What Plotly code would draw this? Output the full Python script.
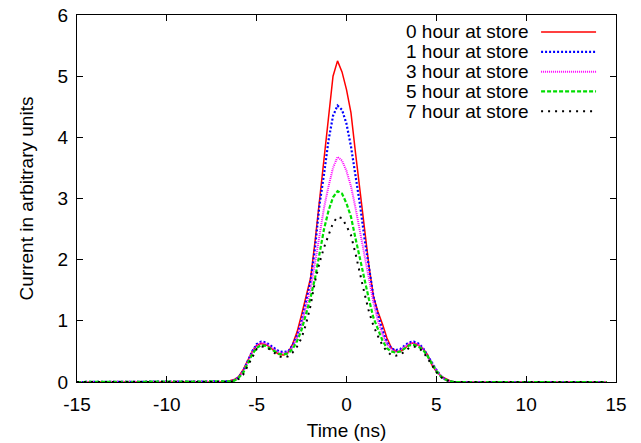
import plotly.graph_objects as go

# Time axis (ns)
time_ns = [-15.0, -14.5, -14.0, -13.5, -13.0, -12.5, -12.0, -11.5, -11.0, -10.5, -10.0,
           -9.5, -9.0, -8.5, -8.0, -7.5,
           -7.0, -6.75, -6.5, -6.25, -6.0, -5.75, -5.5, -5.25, -5.0, -4.75, -4.5, -4.25,
           -4.0, -3.75, -3.5, -3.25, -3.0, -2.75, -2.5, -2.25, -2.0, -1.75, -1.5, -1.25,
           -1.0, -0.75, -0.5, -0.25, 0.0, 0.25, 0.5, 0.75, 1.0, 1.25, 1.5, 1.75,
           2.0, 2.25, 2.5, 2.75, 3.0, 3.25, 3.5, 3.75, 4.0, 4.25, 4.5, 4.75,
           5.0, 5.25, 5.5, 5.75, 6.0,
           6.5, 7.0, 7.5, 8.0, 8.5, 9.0, 9.5, 10.0, 10.5, 11.0, 11.5, 12.0, 12.5,
           13.0, 13.5, 14.0, 14.5]

Z16 = [0.0] * 16
Z17 = [0.0] * 17

hour0 = Z16 + [0.0, 0.005, 0.02, 0.04, 0.09, 0.2, 0.35, 0.5, 0.6, 0.63, 0.61, 0.57,
               0.5, 0.45, 0.44, 0.48, 0.62, 0.82, 1.1, 1.42, 1.7, 2.3, 3.0, 3.6,
               4.3, 5.0, 5.25, 5.07, 4.78, 4.4, 3.75, 3.1, 2.45, 1.9, 1.4, 1.15,
               0.95, 0.72, 0.56, 0.5, 0.5, 0.55, 0.62, 0.64, 0.6, 0.55, 0.45, 0.28,
               0.17, 0.1, 0.06, 0.02, 0.0] + Z17

hour1 = Z16 + [0.0, 0.0, 0.01, 0.03, 0.08, 0.18, 0.33, 0.5, 0.62, 0.66, 0.65, 0.6,
               0.55, 0.5, 0.49, 0.5, 0.6, 0.76, 1.0, 1.3, 1.65, 2.2, 2.9, 3.4,
               3.95, 4.35, 4.52, 4.45, 4.22, 3.85, 3.4, 2.9, 2.35, 1.85, 1.4, 1.1,
               0.85, 0.65, 0.55, 0.52, 0.54, 0.6, 0.65, 0.66, 0.63, 0.56, 0.45, 0.32,
               0.2, 0.1, 0.04, 0.01, 0.0] + Z17

hour3 = Z16 + [0.0, 0.0, 0.01, 0.03, 0.08, 0.17, 0.32, 0.48, 0.6, 0.64, 0.63, 0.58,
               0.53, 0.48, 0.47, 0.49, 0.57, 0.72, 0.95, 1.22, 1.52, 1.95, 2.4, 2.85,
               3.2, 3.5, 3.68, 3.62, 3.45, 3.2, 2.85, 2.45, 2.05, 1.65, 1.3, 1.0,
               0.78, 0.62, 0.53, 0.5, 0.52, 0.58, 0.63, 0.64, 0.61, 0.55, 0.44, 0.31,
               0.19, 0.1, 0.04, 0.01, 0.0] + Z17

hour5 = Z16 + [0.0, 0.0, 0.01, 0.02, 0.07, 0.15, 0.3, 0.45, 0.56, 0.6, 0.59, 0.55,
               0.5, 0.46, 0.45, 0.47, 0.54, 0.67, 0.85, 1.1, 1.38, 1.7, 2.1, 2.5,
               2.8, 3.02, 3.12, 3.08, 2.92, 2.7, 2.35, 2.0, 1.65, 1.35, 1.05, 0.85,
               0.68, 0.55, 0.5, 0.48, 0.5, 0.55, 0.6, 0.61, 0.58, 0.53, 0.43, 0.3,
               0.18, 0.09, 0.04, 0.01, 0.0] + Z17

hour7 = Z16 + [0.0, 0.0, 0.0, 0.02, 0.05, 0.12, 0.26, 0.42, 0.54, 0.58, 0.57, 0.53,
               0.47, 0.42, 0.4, 0.42, 0.48, 0.58, 0.72, 0.95, 1.25, 1.65, 1.95, 2.2,
               2.4, 2.6, 2.7, 2.68, 2.55, 2.4, 2.1, 1.75, 1.45, 1.15, 0.92, 0.75,
               0.6, 0.5, 0.44, 0.43, 0.45, 0.5, 0.56, 0.58, 0.56, 0.5, 0.4, 0.28,
               0.16, 0.08, 0.03, 0.01, 0.0] + Z17

series_names = ["0 hour at store", "1 hour at store", "3 hour at store",
                "5 hour at store", "7 hour at store"]
series_values = [hour0, hour1, hour3, hour5, hour7]
series_colors = ["#ff0000", "#0000ff", "#ff00ff", "#00dd00", "#000000"]
series_dash = ["solid", "2px,2px", "1px,1px", "4px,2px", "2px,5px"]
series_width = [1.5, 2.2, 2.0, 2.2, 2.0]

x_ticks = [-15, -10, -5, 0, 5, 10, 15]
x_ticktext = ["-15", "-10", "-5", "0", "5", "10", "15"]
y_ticks = [0, 1, 2, 3, 4, 5, 6]

FONT = "Liberation Sans, Arial, Helvetica, sans-serif"
FS = 19

fig = go.Figure()
for name, vals, col, dash, w in zip(series_names, series_values, series_colors,
                                    series_dash, series_width):
    fig.add_trace(go.Scatter(x=time_ns, y=vals, mode="lines", name=name,
                             line=dict(color=col, dash=dash, width=w),
                             showlegend=False))

# Manual gnuplot-style legend: text right-aligned, sample line to the right
row0 = 0.9537
step = 0.054
for i, (name, col, dash, w) in enumerate(zip(series_names, series_colors,
                                             series_dash, series_width)):
    yy = row0 - i * step
    fig.add_annotation(x=0.8386, y=yy, xref="paper", yref="paper", text=name,
                       showarrow=False, xanchor="right", yanchor="middle",
                       xshift=2, font=dict(family=FONT, size=FS, color="black"))
    fig.add_shape(type="line", xref="paper", yref="paper",
                  x0=0.861, x1=0.963, y0=yy, y1=yy,
                  line=dict(color=col, dash=dash, width=w))

axis_common = dict(showline=True, linecolor="black", linewidth=1.2, mirror="ticks",
                   ticks="inside", ticklen=6, tickcolor="black", tickwidth=1,
                   showgrid=False, zeroline=False, automargin=False,
                   tickfont=dict(family=FONT, size=FS, color="black"))

fig.update_layout(
    width=641, height=443,
    margin=dict(l=77, r=25, t=15, b=61),
    paper_bgcolor="white", plot_bgcolor="white",
    font=dict(family=FONT, size=FS, color="black"),
    xaxis=dict(range=[-15, 15], tickvals=x_ticks, ticktext=x_ticktext,
               ticklabelstandoff=5,
               title=dict(text="Time (ns)", font=dict(family=FONT, size=FS), standoff=9),
               **axis_common),
    yaxis=dict(range=[0, 6], tickvals=y_ticks, ticklabelstandoff=4,
               title=dict(text="Current in arbitrary units", font=dict(family=FONT, size=FS),
                          standoff=18),
               **axis_common),
)

fig.write_html("out.html")
